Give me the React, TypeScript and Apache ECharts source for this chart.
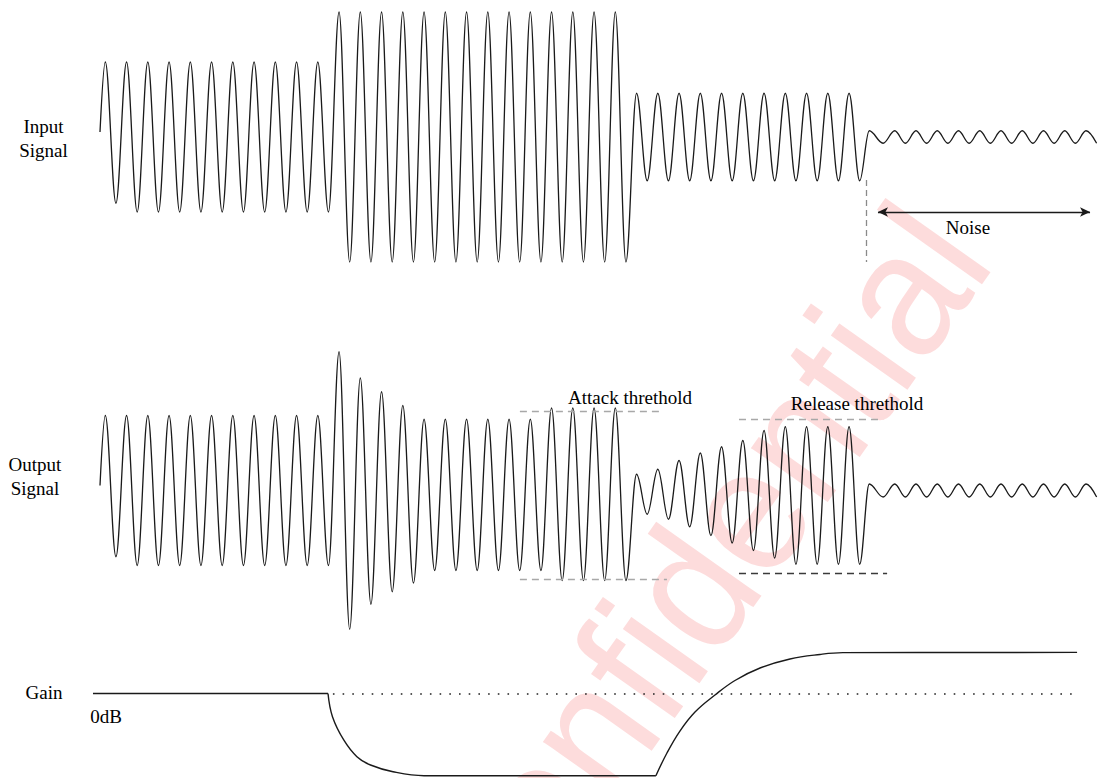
import { useEffect, useRef } from 'react';
import * as echarts from 'echarts';

// time axis in signal periods, amplitude in relative units
const inputQuiet = [
  [0, 0.04], [0.25, 0.6], [0.75, -0.53], [1.25, 0.6], [1.75, -0.6], [2.25, 0.6], [2.75, -0.6],
  [3.25, 0.6], [3.75, -0.6], [4.25, 0.6], [4.75, -0.6], [5.25, 0.6], [5.75, -0.6], [6.25, 0.6],
  [6.75, -0.6], [7.25, 0.6], [7.75, -0.6], [8.25, 0.6], [8.75, -0.6], [9.25, 0.6], [9.75, -0.6],
  [10.25, 0.6], [10.75, -0.6],
];
const inputLoud = [
  [11.25, 1], [11.75, -1], [12.25, 1], [12.75, -1], [13.25, 1], [13.75, -1], [14.25, 1], [14.75, -1],
  [15.25, 1], [15.75, -1], [16.25, 1], [16.75, -1], [17.25, 1], [17.75, -1], [18.25, 1], [18.75, -1],
  [19.25, 1], [19.75, -1], [20.25, 1], [20.75, -1], [21.25, 1], [21.75, -1], [22.25, 1], [22.75, -1],
  [23.25, 1], [23.75, -1], [24.25, 1], [24.75, -1],
];
const inputMid = [
  [25.25, 0.35], [25.75, -0.35], [26.25, 0.35], [26.75, -0.35], [27.25, 0.35], [27.75, -0.35],
  [28.25, 0.35], [28.75, -0.35], [29.25, 0.35], [29.75, -0.35], [30.25, 0.35], [30.75, -0.35],
  [31.25, 0.35], [31.75, -0.35], [32.25, 0.35], [32.75, -0.35], [33.25, 0.35], [33.75, -0.35],
  [34.25, 0.35], [34.75, -0.35], [35.25, 0.35], [35.75, -0.35],
];
const inputNoise = [
  [36.2, 0.05], [36.85, -0.05], [37.4, 0.05], [37.9, -0.05], [38.4, 0.05], [38.9, -0.05],
  [39.4, 0.05], [39.9, -0.05], [40.4, 0.05], [40.9, -0.05], [41.4, 0.05], [41.9, -0.05],
  [42.4, 0.05], [42.9, -0.05], [43.4, 0.05], [43.9, -0.05], [44.4, 0.05], [44.9, -0.05],
  [45.4, 0.05], [45.9, -0.05], [46.4, 0.05], [46.9, -0.05],
];

const outputQuiet = [
  [0, 0.04], [0.25, 0.6], [0.75, -0.53], [1.25, 0.6], [1.75, -0.6], [2.25, 0.6], [2.75, -0.6],
  [3.25, 0.6], [3.75, -0.6], [4.25, 0.6], [4.75, -0.6], [5.25, 0.6], [5.75, -0.6], [6.25, 0.6],
  [6.75, -0.6], [7.25, 0.6], [7.75, -0.6], [8.25, 0.6], [8.75, -0.6], [9.25, 0.6], [9.75, -0.6],
  [10.25, 0.6], [10.75, -0.6],
];
const outputAttack = [
  [11.25, 1.11], [11.75, -1.11], [12.25, 0.9], [12.75, -0.91], [13.25, 0.79], [13.75, -0.81],
  [14.25, 0.68], [14.75, -0.74], [15.25, 0.57], [15.75, -0.64], [16.25, 0.57], [16.75, -0.64],
  [17.25, 0.57], [17.75, -0.64], [18.25, 0.57], [18.75, -0.64], [19.25, 0.57], [19.75, -0.64],
  [20.25, 0.57], [20.75, -0.64], [21.25, 0.66], [21.75, -0.72], [22.25, 0.66], [22.75, -0.72],
  [23.25, 0.66], [23.75, -0.72], [24.25, 0.66], [24.75, -0.72],
];
const outputRelease = [
  [25.25, 0.13], [25.75, -0.19], [26.25, 0.17], [26.75, -0.23], [27.25, 0.24], [27.75, -0.29],
  [28.25, 0.3], [28.75, -0.36], [29.25, 0.35], [29.75, -0.42], [30.25, 0.4], [30.75, -0.48],
  [31.25, 0.48], [31.75, -0.54], [32.25, 0.51], [32.75, -0.59], [33.25, 0.51], [33.75, -0.59],
  [34.25, 0.51], [34.75, -0.59], [35.25, 0.51], [35.75, -0.59],
];
const outputNoise = [
  [36.2, 0.052], [36.85, -0.052], [37.4, 0.052], [37.9, -0.052], [38.4, 0.052], [38.9, -0.052],
  [39.4, 0.052], [39.9, -0.052], [40.4, 0.052], [40.9, -0.052], [41.4, 0.052], [41.9, -0.052],
  [42.4, 0.052], [42.9, -0.052], [43.4, 0.052], [43.9, -0.052], [44.4, 0.052], [44.9, -0.052],
  [45.4, 0.052], [45.9, -0.052], [46.4, 0.052], [46.9, -0.052],
];

// gain in dB
const gainBefore = [[-0.33, 0], [10.73, 0]];
const gainAttack = [
  [10.73, 0], [10.94, -1.69], [11.47, -3.39], [12.09, -4.61], [12.73, -5.22], [13.79, -5.71],
  [15.25, -6], [26.16, -6],
];
const gainRelease = [
  [26.16, -6], [26.68, -4.34], [27.29, -2.74], [28.0, -1.35], [28.94, -0.11], [29.88, 0.95],
  [31.06, 1.86], [32.47, 2.52], [33.88, 2.85], [34.96, 2.98], [45.98, 3],
];

// annotation extents
const noiseMarker = { start: 36.05, lineTop: -0.344, lineBottom: -1, arrowFrom: 36.61, arrowTo: 46.59, arrowLevel: -0.6 };
const attackThreshold = { from: 19.76, toTop: 26.49, toBottom: 26.68, top: 0.636, bottom: -0.708 };
const releaseThreshold = { from: 30.07, toTop: 36.85, toBottom: 37.04, top: 0.572, bottom: -0.66 };
const zeroDbLine = { from: 10.96, to: 45.88, level: 0 };

const INK = '#1a1a1a';
const SERIF = '"Liberation Serif", "Times New Roman", serif';
const LABEL_SIZE = 19;

export default function App() {
  const ref = useRef<HTMLDivElement>(null);
  useEffect(() => {
    const chart = echarts.init(ref.current!, null, { renderer: 'svg' });
    const waveStyle = { color: INK, width: 1.3 };
    const grids = [
      { left: 89.375, width: 1009.375, top: 12, height: 250 },
      { left: 89.375, width: 1009.375, top: 340.5, height: 300 },
      { left: 89.375, width: 1009.375, top: 652.4, height: 123.3 },
    ];
    const xAxes = grids.map((_, i) => ({ type: 'value', gridIndex: i, min: -0.5, max: 47, show: false }));
    const yAxes = [
      { type: 'value', gridIndex: 0, min: -1, max: 1, show: false },
      { type: 'value', gridIndex: 1, min: -1.2, max: 1.2, show: false },
      { type: 'value', gridIndex: 2, min: -6, max: 3, show: false },
    ];
    const grayDash = { color: '#a8a8a8', width: 1.4, type: [7, 5] };
    const label = (text: string, x: number, y: number, extra: any = {}) => ({
      type: 'text', x, y, z: 10, silent: true,
      style: { text, fontSize: LABEL_SIZE, fontFamily: SERIF, fill: '#000', align: 'center', verticalAlign: 'middle', ...extra },
    });
    const option: any = {
      animation: false,
      backgroundColor: '#fff',
      grid: grids,
      xAxis: xAxes,
      yAxis: yAxes,
      series: [
        {
          name: 'Input Signal', type: 'line', xAxisIndex: 0, yAxisIndex: 0,
          data: [...inputQuiet, ...inputLoud, ...inputMid, ...inputNoise],
          showSymbol: false, smooth: 0.36, smoothMonotone: 'x', clip: false, silent: true,
          lineStyle: waveStyle,
          markLine: {
            silent: true, symbol: ['none', 'none'], label: { show: false },
            data: [
              [
                { coord: [noiseMarker.start, noiseMarker.lineTop], symbol: 'none', lineStyle: { color: '#8a8a8a', width: 1.3, type: [6, 4] } },
                { coord: [noiseMarker.start, noiseMarker.lineBottom], symbol: 'none' },
              ],
              [
                { coord: [noiseMarker.arrowFrom, noiseMarker.arrowLevel], symbol: 'arrow', symbolSize: [7, 10], lineStyle: { color: INK, width: 1.4, type: 'solid' } },
                { coord: [noiseMarker.arrowTo, noiseMarker.arrowLevel], symbol: 'arrow', symbolSize: [7, 10] },
              ],
            ],
          },
        },
        {
          name: 'Output Signal', type: 'line', xAxisIndex: 1, yAxisIndex: 1,
          data: [...outputQuiet, ...outputAttack, ...outputRelease, ...outputNoise],
          showSymbol: false, smooth: 0.36, smoothMonotone: 'x', clip: false, silent: true,
          lineStyle: waveStyle,
          markLine: {
            silent: true, symbol: ['none', 'none'], label: { show: false },
            data: [
              [{ coord: [attackThreshold.from, attackThreshold.top], lineStyle: grayDash }, { coord: [attackThreshold.toTop, attackThreshold.top] }],
              [{ coord: [attackThreshold.from, attackThreshold.bottom], lineStyle: grayDash }, { coord: [attackThreshold.toBottom, attackThreshold.bottom] }],
              [{ coord: [releaseThreshold.from, releaseThreshold.top], lineStyle: grayDash }, { coord: [releaseThreshold.toTop, releaseThreshold.top] }],
              [{ coord: [releaseThreshold.from, releaseThreshold.bottom], lineStyle: { color: '#3a3a3a', width: 1.3, type: [7, 5] } }, { coord: [releaseThreshold.toBottom, releaseThreshold.bottom] }],
            ],
          },
        },
        {
          name: 'Gain', type: 'line', xAxisIndex: 2, yAxisIndex: 2, data: gainBefore,
          showSymbol: false, clip: false, silent: true, lineStyle: { color: INK, width: 1.4 },
          markLine: {
            silent: true, symbol: ['none', 'none'], label: { show: false },
            data: [[
              { coord: [zeroDbLine.from, zeroDbLine.level], lineStyle: { color: '#222', width: 1.6, type: [1.6, 8.1] } },
              { coord: [zeroDbLine.to, zeroDbLine.level] },
            ]],
          },
        },
        {
          name: 'Gain attack', type: 'line', xAxisIndex: 2, yAxisIndex: 2, data: gainAttack,
          showSymbol: false, smooth: 0.4, clip: false, silent: true, lineStyle: { color: INK, width: 1.4 },
        },
        {
          name: 'Gain release', type: 'line', xAxisIndex: 2, yAxisIndex: 2, data: gainRelease,
          showSymbol: false, smooth: 0.4, clip: false, silent: true, lineStyle: { color: INK, width: 1.4 },
        },
      ],
      graphic: {
        elements: [
          {
            type: 'text', x: 693, y: 585, rotation: (54.7 * Math.PI) / 180, scaleY: 1.07, z: 0, silent: true,
            style: {
              text: 'Confidential', fontSize: 166, fontFamily: '"Liberation Sans", Arial, sans-serif',
              fill: '#fddcdc', align: 'center', verticalAlign: 'middle',
            },
          },
          label('Input\nSignal', 43.5, 138, { lineHeight: 24 }),
          label('Output\nSignal', 35, 476, { lineHeight: 24 }),
          label('Attack threthold', 630, 397),
          label('Release threthold', 857, 403),
          label('Noise', 968, 227),
          label('Gain', 44, 692),
          label('0dB', 106, 716),
        ],
      },
    };
    chart.setOption(option);
    return () => chart.dispose();
  }, []);
  return (
    <div
      ref={ref}
      style={{ position: 'fixed', left: 0, top: 0, width: 1100, height: 778, background: '#fff' }}
    />
  );
}
